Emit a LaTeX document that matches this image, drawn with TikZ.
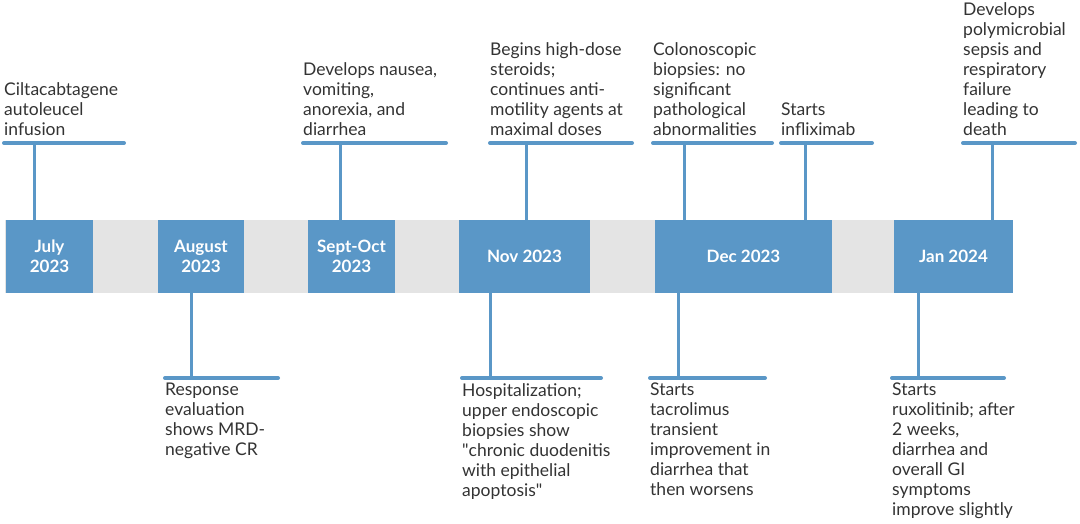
\documentclass[tikz,border=0pt]{standalone}
\usepackage{fontspec}
\setmainfont{Lato}
\definecolor{tlblue}{HTML}{5A97C7}
\definecolor{tlgray}{HTML}{E4E4E4}
\definecolor{tltext}{HTML}{333333}
\tikzset{
  month/.style={fill=tlblue,text=white,font=\fontsize{17}{20}\selectfont\bfseries,align=center,minimum height=73pt,inner sep=0pt},
  stem/.style={draw=tlblue,line width=3pt},
  bar/.style={draw=tlblue,line width=4pt,line cap=round},
  event/.style={text=tltext,font=\fontsize{17.5}{20}\selectfont,align=left,inner sep=0pt},
}
\begin{document}
\begin{tikzpicture}[x=1pt,y=-1pt]
\useasboundingbox (0,0) rectangle (1080,523);
\fill[tlgray] (5,220) rectangle (1013,293);
\node[month,minimum width=87pt] (jul) at (49.5,256.5) {July\\2023};
\node[month,minimum width=86pt] (aug) at (201,256.5) {August\\2023};
\node[month,minimum width=87pt] (sep) at (351.5,256.5) {Sept-Oct\\2023};
\node[month,minimum width=131pt] (nov) at (524.5,256.5) {Nov 2023};
\node[month,minimum width=177pt] (dec) at (743.5,256.5) {Dec 2023};
\node[month,minimum width=119pt] (jan) at (953.5,256.5) {Jan 2024};

\coordinate (u1) at (34,143);
\draw[stem] (u1) -- (u1 |- jul.north);
\draw[bar] (4,143) -- (124,143);
\node[event,anchor=south west] (t1) at (4,136) {Ciltacabtagene\\autoleucel\\infusion};

\coordinate (u2) at (340,143);
\draw[stem] (u2) -- (u2 |- sep.north);
\draw[bar] (303,143) -- (446,143);
\node[event,anchor=south west] (t2) at (303,136) {Develops nausea,\\vomiting,\\anorexia, and\\diarrhea};

\coordinate (u3) at (526,143);
\draw[stem] (u3) -- (u3 |- nov.north);
\draw[bar] (490,143) -- (632,143);
\node[event,anchor=south west] (t3) at (490,136) {Begins high-dose\\steroids;\\continues anti-\\motility agents at\\maximal doses};

\coordinate (u4) at (684,143);
\draw[stem] (u4) -- (u4 |- dec.north);
\draw[bar] (653,143) -- (772,143);
\node[event,anchor=south west] (t4) at (653,136) {Colonoscopic\\biopsies: no\\significant\\pathological\\abnormalities};

\coordinate (u5) at (805,143);
\draw[stem] (u5) -- (u5 |- dec.north);
\draw[bar] (781,143) -- (872,143);
\node[event,anchor=south west] (t5) at (781,136) {Starts\\infliximab};

\coordinate (u6) at (992,143);
\draw[stem] (u6) -- (u6 |- jan.north);
\draw[bar] (963,143) -- (1075,143);
\node[event,anchor=south west] (t6) at (963,136) {Develops\\polymicrobial\\sepsis and\\respiratory\\failure\\leading to\\death};

\coordinate (d1) at (191,378);
\draw[stem] (aug.south -| d1) -- (d1);
\draw[bar] (165,378) -- (278,378);
\node[event,anchor=north west] (b1) at (165,383) {Response\\evaluation\\shows MRD-\\negative CR};

\coordinate (d2) at (490,378);
\draw[stem] (nov.south -| d2) -- (d2);
\draw[bar] (462,378) -- (601,378);
\node[event,anchor=north west] (b2) at (462,383) {Hospitalization;\\upper endoscopic\\biopsies show\\\textquotedbl chronic duodenitis\\with epithelial\\apoptosis\textquotedbl};

\coordinate (d3) at (678,378);
\draw[stem] (dec.south -| d3) -- (d3);
\draw[bar] (650,378) -- (765,378);
\node[event,anchor=north west] (b3) at (650,383) {Starts\\tacrolimus\\transient\\improvement in\\diarrhea that\\then worsens};

\coordinate (d4) at (918,378);
\draw[stem] (jan.south -| d4) -- (d4);
\draw[bar] (892,378) -- (1004,378);
\node[event,anchor=north west] (b4) at (892,383) {Starts\\ruxolitinib; after\\2 weeks,\\diarrhea and\\overall GI\\symptoms\\improve slightly};
\end{tikzpicture}
\end{document}
